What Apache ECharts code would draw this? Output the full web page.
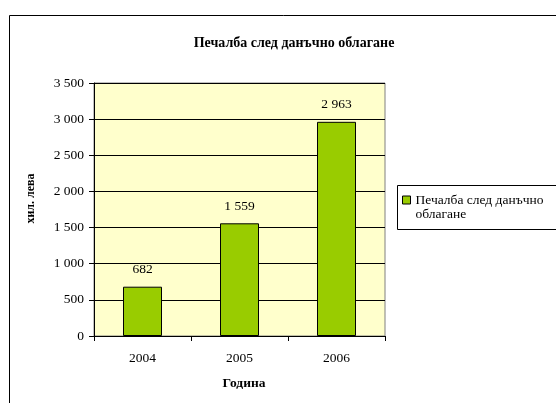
<!DOCTYPE html>
<html><head><meta charset="utf-8">
<script src="https://cdn.jsdelivr.net/npm/echarts@6/dist/echarts.min.js"></script>
<style>html,body{margin:0;padding:0;background:#fff}#c{width:556px;height:403px}</style>
</head><body><div id="c"></div>
<script>
var categories = ['2004', '2005', '2006'];
var values = [682, 1559, 2963];
var seriesName = 'Печалба след данъчно облагане';
var titleText = 'Печалба след данъчно облагане';
var yAxisName = 'хил. лева';
var xAxisName = 'Година';

function fmt(v){ return String(v).replace(/\B(?=(\d{3})+(?!\d))/g, ' '); }
var font = '"Liberation Serif","Times New Roman",serif';
var fs = 13.5;
var chart = echarts.init(document.getElementById('c'), null, {renderer:'canvas'});
chart.setOption({
  animation:false,
  textStyle:{fontFamily:font},
  graphic:[
    {type:'rect', shape:{x:9.5,y:15.5,width:600,height:450}, style:{fill:'none',stroke:'#000',lineWidth:1}, z:-10},
    {type:'rect', shape:{x:397.5,y:185.5,width:200,height:44}, style:{fill:'#fff',stroke:'#000',lineWidth:1}, z:-5}
  ],
  title:{text:titleText, left:289, top:31, textAlign:'center',
    textStyle:{fontFamily:font,fontSize:14,fontWeight:'bold',color:'#000'}},
  legend:{left:402, top:179, itemWidth:8, itemHeight:8, itemGap:0, icon:'rect', padding:0,
    data:[{name:seriesName}],
    formatter:function(){return ' \nПечалба след данъчно\nоблагане';},
    textStyle:{fontFamily:font,fontSize:fs,color:'#000',lineHeight:14},
    itemStyle:{borderColor:'#000',borderWidth:1}},
  grid:{left:94, top:83, width:291, height:253, show:true, backgroundColor:'#FFFFCC', borderColor:'#808080', borderWidth:1},
  xAxis:{type:'category', data:categories, name:xAxisName, nameLocation:'middle', nameGap:41,
    nameTextStyle:{fontFamily:font,fontSize:fs,fontWeight:'bold',color:'#000',padding:[0,0,0,9]},
    axisLine:{lineStyle:{color:'#000'}}, axisTick:{show:true,length:5,lineStyle:{color:'#000'}},
    axisLabel:{fontFamily:font,fontSize:fs,color:'#000',margin:15}},
  yAxis:{type:'value', min:0, max:3500, interval:500, name:yAxisName, nameLocation:'middle', nameGap:57,
    nameTextStyle:{fontFamily:font,fontSize:12,fontWeight:'bold',color:'#000',padding:[0,0,0,22]},
    axisLine:{show:true,lineStyle:{color:'#000'}}, axisTick:{show:true,length:5,lineStyle:{color:'#000'}},
    splitLine:{lineStyle:{color:'#000',width:1}},
    axisLabel:{fontFamily:font,fontSize:fs,color:'#000',margin:10,formatter:fmt}},
  series:[{type:'bar', name:seriesName, data:values, barWidth:39,
    itemStyle:{color:'#99CC00',borderColor:'#000',borderWidth:1},
    label:{show:true,position:'top',distance:10,fontFamily:font,fontSize:fs,color:'#000',formatter:function(p){return fmt(p.value);}}}]
});
</script></body></html>
